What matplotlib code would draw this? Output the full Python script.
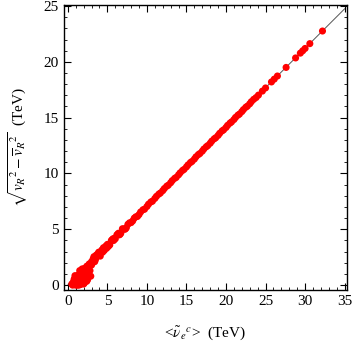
import numpy as np
import matplotlib
matplotlib.use('Agg')
import matplotlib.pyplot as plt
from matplotlib.ticker import MultipleLocator

# blob of points near the origin
x_low = [0.5, 0.7, 0.8, 0.9, 1.0, 1.1, 1.2, 1.2, 1.3, 1.4, 1.5, 1.5, 1.6, 1.7,
         1.8, 1.9, 2.0, 2.0, 2.1, 2.2, 2.3, 2.4, 2.5, 2.6, 2.7, 2.8, 3.0, 3.0,
         1.0, 1.4, 1.9, 2.3, 0.6, 0.8, 1.1, 1.7, 2.1, 2.5, 2.9, 1.3, 1.6,
         2.0, 2.2, 1.8, 2.6, 2.4, 0.9, 1.5]
y_low = [0.1, 0.3, 0.05, 0.5, 0.2, 0.7, 0.0, 0.4, 0.9, 0.2, 1.0, 0.6, 0.05, 1.2,
         0.4, 0.8, 1.3, 0.1, 1.5, 0.6, 1.1, 1.7, 0.9, 1.4, 1.9, 1.3, 1.8, 2.1,
         0.0, 0.0, 0.3, 0.5, 0.0, 0.55, 0.35, 0.9, 0.2, 0.5, 0.8, 0.6, 0.3,
         0.95, 1.25, 1.45, 1.1, 0.35, 0.85, 1.3]

# dense band
x_band = [3.2, 3.5, 3.8, 4.0, 4.3, 4.6, 5.0, 5.3, 5.6, 6.0, 6.3, 6.7, 7.0, 7.4,
          7.8, 8.2, 8.6, 9.0, 9.5, 10.0, 10.5, 11.0, 11.5, 12.0, 12.5, 13.0,
          13.5, 14.0, 14.5, 15.0, 15.5, 16.0, 16.5, 17.0, 17.5, 18.0, 18.5,
          19.0, 19.5, 20.0, 20.5, 21.0, 21.5, 22.0, 22.5, 23.0, 23.5,
          3.4, 4.1, 4.9, 5.8, 6.5, 7.2]
y_band = [2.35, 2.30, 2.80, 2.65, 3.15, 3.10, 3.65, 3.60, 4.05, 4.15, 4.55, 4.65,
          5.02, 5.15, 5.58, 5.75, 6.12, 6.32, 6.75, 7.04, 7.45, 7.76, 8.15, 8.46,
          8.86, 9.17, 9.56, 9.88, 10.27, 10.59, 10.98, 11.29, 11.69, 12.00,
          12.39, 12.71, 13.10, 13.41, 13.81, 14.12, 14.51, 14.83, 15.22, 15.54,
          15.93, 16.24, 16.64,
          2.10, 2.60, 3.30, 4.00, 4.50, 5.00]

# second row of the band, filling the gaps
x_band2 = [3.0, 3.6, 4.4, 4.8, 5.2, 5.5, 5.9, 6.2, 6.6, 6.9, 7.3, 7.6, 8.0, 8.4,
           8.8, 9.2, 9.7, 10.2, 10.7, 11.2, 11.7, 12.2, 12.7, 13.2, 13.7, 14.2,
           14.7, 15.2, 15.7, 16.2, 16.7, 17.2, 17.7, 18.2, 18.7, 19.2, 19.7,
           20.2, 20.7, 21.2, 21.7, 22.2, 22.7, 23.2, 23.8,
           3.3, 3.9, 4.5, 5.1, 5.7, 6.4]
y_band2 = [1.95, 2.70, 2.95, 3.50, 3.55, 4.00, 4.20, 4.50, 4.55, 5.05, 5.05, 5.45,
           5.60, 6.00, 6.15, 6.55, 6.80, 7.25, 7.52, 7.95, 8.25, 8.65, 8.95, 9.36,
           9.65, 10.06, 10.37, 10.77, 11.08, 11.49, 11.79, 12.19, 12.50, 12.90,
           13.20, 13.60, 13.91, 14.31, 14.62, 15.02, 15.32, 15.72, 16.03, 16.43,
           16.80,
           2.55, 2.95, 3.35, 3.45, 4.15, 4.65]

# sparse points at the top end
x_high = [24.1, 24.6, 25.0, 25.75, 26.1, 26.5, 27.6, 28.8, 29.4, 29.7, 30.0, 30.6, 32.2]
y_high = [17.02, 17.38, 17.66, 18.20, 18.45, 18.73, 19.50, 20.35, 20.78, 20.99, 21.20, 21.63, 22.76]

line_x = [0, 35]
line_y = [0, 24.75]

plt.rcParams['font.family'] = ['Liberation Serif', 'DejaVu Serif']
plt.rcParams['mathtext.fontset'] = 'stix'

fig = plt.figure(figsize=(3.53, 3.5), dpi=100)
ax = fig.add_axes([0.181, 0.171, 0.802, 0.815])

xs = x_low + x_band + x_band2 + x_high
ys = y_low + y_band + y_band2 + y_high
ax.plot(line_x, line_y, color='#555555', linewidth=0.7, zorder=1)
ax.scatter(xs, ys, s=26, color='red', edgecolors='none', zorder=2)

ax.set_xlim(-0.5, 35.3)
ax.set_ylim(-0.45, 25.1)
ax.xaxis.set_major_locator(MultipleLocator(5))
ax.xaxis.set_minor_locator(MultipleLocator(1))
ax.yaxis.set_major_locator(MultipleLocator(5))
ax.yaxis.set_minor_locator(MultipleLocator(1))
ax.tick_params(which='both', direction='in', top=True, right=True, labelsize=11)
ax.tick_params(which='major', length=5, width=0.8)
ax.tick_params(which='minor', length=2.5, width=0.6)
for sp in ax.spines.values():
    sp.set_linewidth(1.0)

ax.set_xlabel(r'<$\tilde{\nu}_e{}^{c}$>  (TeV)', fontsize=11, labelpad=12)
ax.set_ylabel(r'$\sqrt{v_R{}^2 - \overline{v}_R{}^2}$  (TeV)', fontsize=11, labelpad=10)

fig.savefig('out.png', dpi=100)
